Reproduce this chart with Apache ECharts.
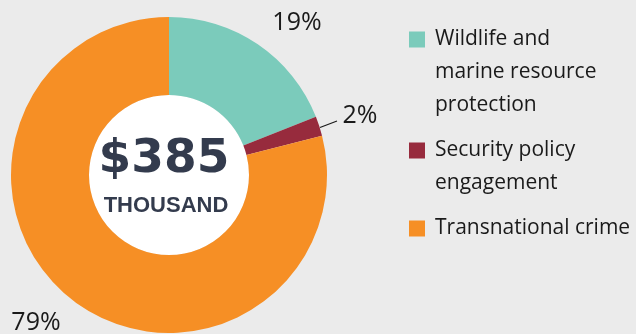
<!DOCTYPE html>
<html>
<head>
<meta charset="utf-8">
<script src="https://cdn.jsdelivr.net/npm/echarts@6/dist/echarts.min.js"></script>
<style>
html,body{margin:0;padding:0;background:#ebebeb;}
#chart{width:636px;height:334px;}
</style>
</head>
<body>
<div id="chart"></div>
<script>
const categories = ['Wildlife and marine resource protection', 'Security policy engagement', 'Transnational crime'];
const legendLines = [['Wildlife and', 'marine resource', 'protection'], ['Security policy', 'engagement'], ['Transnational crime']];
const values = [19, 2, 79];
const colors = ['#7bcbbb', '#972b3d', '#f68f25'];
const centerValue = '$385';
const centerUnit = 'THOUSAND';

const chart = echarts.init(document.getElementById('chart'));

const rich = {
  s: { width: 16, height: 16, lineHeight: 33, verticalAlign: 'middle' },
  t: { padding: [0, 0, 0, 10], lineHeight: 33, fontSize: 21, fontFamily: 'Open Sans', color: '#1a1a1a', verticalAlign: 'middle' }
};
colors.forEach((c, i) => {
  rich['b' + i] = { width: 16, height: 16, lineHeight: 33, backgroundColor: c, verticalAlign: 'middle' };
});

const labelPos = [
  { x: 297, y: 23 },
  { x: 360, y: 116, line: [[320, 127.5], [337, 121]] },
  { x: 36, y: 323 }
];

chart.setOption({
  backgroundColor: '#ebebeb',
  animation: false,
  legend: {
    orient: 'vertical',
    left: 404,
    top: 29,
    padding: 0,
    icon: 'none',
    itemWidth: 0,
    itemHeight: 2,
    itemGap: 24,
    selectedMode: false,
    data: categories,
    formatter: function (name) {
      const i = categories.indexOf(name);
      return legendLines[i].map((l, j) => (j === 0 ? '{b' + i + '| }' : '{s| }') + '{t|' + l + '}').join('\n');
    },
    textStyle: { rich: rich }
  },
  graphic: [
    { type: 'text', silent: true, z: 100, x: 164, y: 160,
      style: { text: centerValue, x: 0, y: 0, align: 'center', verticalAlign: 'middle', font: 'bold 47px "DejaVu Sans"', fill: '#333b4d' } },
    { type: 'text', silent: true, z: 100, x: 166, y: 206,
      style: { text: centerUnit, x: 0, y: 0, align: 'center', verticalAlign: 'middle', font: 'bold 22px "Liberation Sans"', fill: '#333b4d' } }
  ],
  series: [
    {
      type: 'pie',
      silent: true,
      z: 1,
      center: [169, 175],
      radius: [0, 80],
      label: { show: false },
      labelLine: { show: false },
      data: [{ value: 1, name: 'hole', itemStyle: { color: '#ffffff' } }]
    },
    {
      type: 'pie',
      silent: true,
      center: [169, 175],
      radius: [80, 158],
      startAngle: 90,
      clockwise: true,
      avoidLabelOverlap: false,
      itemStyle: { borderWidth: 0 },
      label: {
        show: true,
        formatter: '{d}%',
        fontSize: 25,
        fontFamily: 'Open Sans',
        color: '#1a1a1a'
      },
      labelLine: { show: false, lineStyle: { color: '#1a1a1a', width: 1.2 } },
      labelLayout: function (params) {
        const p = labelPos[params.dataIndex];
        const o = { x: p.x, y: p.y, align: 'center', verticalAlign: 'middle' };
        if (p.line) o.labelLinePoints = p.line;
        return o;
      },
      data: categories.map((n, i) => ({
        name: n,
        value: values[i],
        itemStyle: { color: colors[i] },
        labelLine: { show: i === 1 }
      }))
    }
  ]
});
</script>
</body>
</html>
